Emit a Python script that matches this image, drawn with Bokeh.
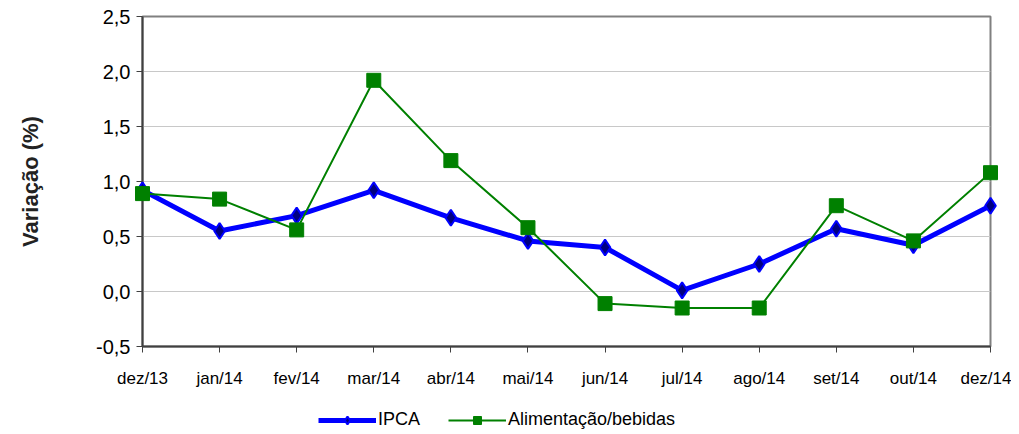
from bokeh.plotting import figure
from bokeh.layouts import column
from bokeh.models import Range1d, FixedTicker, Legend, LegendItem
from bokeh.embed import file_html
from bokeh.resources import INLINE

months = ["dez/13", "jan/14", "fev/14", "mar/14", "abr/14", "mai/14",
          "jun/14", "jul/14", "ago/14", "set/14", "out/14", "dez/14"]
ipca = [0.92, 0.55, 0.69, 0.92, 0.67, 0.46, 0.40, 0.01, 0.25, 0.57, 0.42, 0.78]
alim = [0.89, 0.84, 0.56, 1.92, 1.19, 0.58, -0.11, -0.15, -0.15, 0.78, 0.46, 1.08]
yticks = [-0.5, 0.0, 0.5, 1.0, 1.5, 2.0, 2.5]

xs = list(range(len(months)))
FONT = "Liberation Sans"

IPCA_LINE = dict(line_color="#0000ff", line_width=5)
IPCA_MARK = dict(marker="diamond", size=16, fill_color="#000080", line_color="#0000ff", line_width=2)
ALIM_LINE = dict(line_color="#008000", line_width=2)
ALIM_MARK = dict(marker="square", size=14, fill_color="#008000", line_color="#008000")

p = figure(frame_width=848, frame_height=330, output_backend="svg", toolbar_location=None,
           x_range=Range1d(0, len(months) - 1), y_range=Range1d(-0.5, 2.5),
           min_border_left=142, min_border_right=21, min_border_top=16,
           min_border_bottom=48)

p.outline_line_color = "#808080"
p.outline_line_width = 2
p.background_fill_color = "white"
p.border_fill_color = "white"

p.xgrid.visible = False
p.ygrid.ticker = FixedTicker(ticks=yticks)
p.ygrid.grid_line_color = "#c8c8c8"
p.ygrid.grid_line_width = 1

# axes
p.xaxis.ticker = FixedTicker(ticks=xs)
p.xaxis.major_label_overrides = {i: m for i, m in enumerate(months)}
p.yaxis.ticker = FixedTicker(ticks=yticks)
p.yaxis.major_label_overrides = {t: f"{t:.1f}".replace(".", ",") for t in yticks}
for ax in (p.xaxis[0], p.yaxis[0]):
    ax.axis_line_color = "#404040"
    ax.axis_line_width = 2
    ax.major_tick_line_color = "#404040"
    ax.major_tick_line_width = 1
    ax.major_tick_out = 6
    ax.major_tick_in = 0
    ax.minor_tick_line_color = None
    ax.major_label_text_font = FONT
    ax.major_label_text_color = "#000000"
p.xaxis.major_label_text_font_size = "17px"
p.xaxis.major_label_standoff = 16
p.yaxis.major_label_text_font_size = "20px"
p.yaxis.major_label_standoff = 6
p.yaxis.axis_label = "Variação (%)"
p.yaxis.axis_label_text_font = FONT
p.yaxis.axis_label_text_font_style = "bold"
p.yaxis.axis_label_text_font_size = "22px"
p.yaxis.axis_label_text_color = "#222222"
p.yaxis.axis_label_standoff = 50

# series
p.line(xs, ipca, **IPCA_LINE)
p.scatter(xs, ipca, level="overlay", **IPCA_MARK)
p.line(xs, alim, **ALIM_LINE)
p.scatter(xs, alim, level="overlay", **ALIM_MARK)

# legend strip (separate figure so the legend sits below the axis labels);
# its renderers use the same series but lie outside this strip's view
lg = figure(width=1011, height=40, output_backend="svg", toolbar_location=None,
            x_range=Range1d(0, len(months) - 1), y_range=Range1d(10, 11),
            x_axis_location=None, y_axis_location=None,
            min_border=0, outline_line_color=None)
lg.grid.visible = False
e1 = lg.line(xs, ipca, **IPCA_LINE)
e2 = lg.scatter(xs, ipca, **IPCA_MARK)
e3 = lg.line(xs, alim, **ALIM_LINE)
e4 = lg.scatter(xs, alim, **ALIM_MARK)
legend = Legend(items=[LegendItem(label="IPCA", renderers=[e1, e2]),
                       LegendItem(label="Alimentação/bebidas", renderers=[e3, e4])],
                orientation="horizontal", location=(176, 4),
                border_line_color=None, background_fill_alpha=0,
                label_text_font=FONT, label_text_font_size="18px",
                label_text_color="#000000",
                glyph_width=58, glyph_height=20, label_standoff=2, spacing=28,
                padding=0, margin=0)
lg.add_layout(legend, "center")

layout = column(p, lg, spacing=0)
open("out.html", "w").write(file_html(layout, INLINE))
